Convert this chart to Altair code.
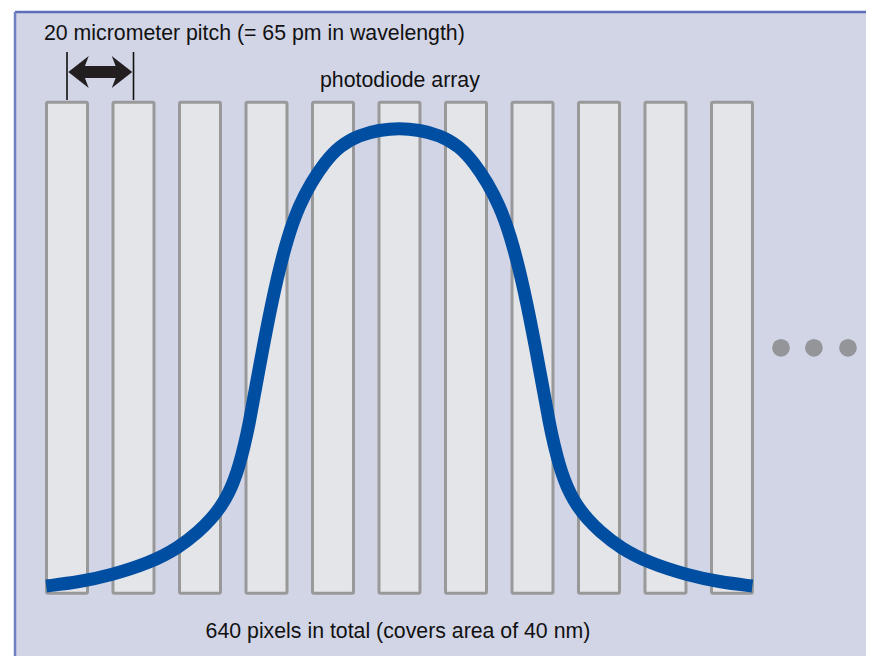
import altair as alt
import pandas as pd

# ---- values (x in micrometres along the array, y in relative signal) ----
diode_left_um = [0, 20, 40, 60, 80, 100, 120, 140, 160, 180, 200]
diode_width_um = 12.33
diode_bottom = -0.016
diode_top = 1.056

curve_x = [-0.1, 9.86, 19.48, 30.91, 39.63, 45.95, 49.56, 52.57, 54.67, 56.48, 57.98,
           59.48, 60.99, 62.49, 66.10, 69.41, 72.72, 76.02, 79.63, 83.54, 88.06, 94.07,
           100.09, 106.1,
           112.12, 118.13, 124.15, 128.66, 132.57, 136.18, 139.48, 142.79, 146.10, 149.71,
           151.21, 152.72, 154.22, 155.72, 157.53, 159.63, 162.64, 166.25, 172.57, 181.29,
           192.72, 202.34, 212.3]
curve_y = [0.0, 0.0087, 0.0240, 0.0502, 0.0830, 0.1201, 0.1463, 0.1747, 0.2009, 0.2314,
           0.2642, 0.3057, 0.3559, 0.4170, 0.5598, 0.6751, 0.7664, 0.8312, 0.8810, 0.9236,
           0.9607, 0.9847, 0.9956, 1.0,
           0.9956, 0.9847, 0.9607, 0.9236, 0.8810, 0.8312, 0.7664, 0.6751, 0.5598, 0.4170,
           0.3559, 0.3057, 0.2642, 0.2314, 0.2009, 0.1747, 0.1463, 0.1201, 0.0830, 0.0502,
           0.0240, 0.0087, 0.0]

dots_x = [220.9, 230.8, 241.05]
dots_y = [0.52, 0.52, 0.52]

pitch_tick_x = [6.17, 26.17]
pitch_tick_y = [1.061, 1.166]
arrow_x = [16.17]
arrow_y = [1.1223]

labels = ["20 micrometer pitch (= 65 pm in wavelength)", "photodiode array",
          "640 pixels in total (covers area of 40 nm)"]
label_x = [-0.75, 106.3, 105.7]
label_y = [1.192, 1.0895, -0.1135]
label_align = ["left", "center", "center"]

panel_x = [-9.47, 246.47]
panel_y = [-0.15284, 1.2533]

# ---- scales ----
xs = alt.Scale(domain=[-11.579, 246.47], nice=False, zero=False)
ys = alt.Scale(domain=[-0.15284, 1.26201], nice=False, zero=False)
X = lambda f: alt.X(f, type="quantitative", scale=xs, axis=None)
Y = lambda f: alt.Y(f, type="quantitative", scale=ys, axis=None)

panel_df = pd.DataFrame({"x0": [panel_x[0]], "x1": [panel_x[1]], "y0": [panel_y[0]], "y1": [panel_y[1]]})
panel = alt.Chart(panel_df).mark_rect(fill="#d2d5e6").encode(x=X("x0"), x2="x1", y=Y("y0"), y2="y1")
top_border = alt.Chart(panel_df).mark_rule(color="#5b70b8", strokeWidth=2.5).encode(x=X("x0"), x2="x1", y=Y("y1"))
left_border = alt.Chart(panel_df).mark_rule(color="#6f80c4", strokeWidth=2.5).encode(x=X("x0"), y=Y("y0"), y2="y1")

bars_df = pd.DataFrame({"x0": diode_left_um,
                        "x1": [v + diode_width_um for v in diode_left_um],
                        "y0": [diode_bottom] * len(diode_left_um),
                        "y1": [diode_top] * len(diode_left_um)})
bars = alt.Chart(bars_df).mark_rect(fill="#e4e5e9", stroke="#999999", strokeWidth=3, cornerRadius=1.5).encode(
    x=X("x0"), x2="x1", y=Y("y0"), y2="y1")

curve_df = pd.DataFrame({"x": curve_x, "y": curve_y})
curve = alt.Chart(curve_df).mark_line(color="#004ea2", strokeWidth=13, interpolate="basis",
                                      strokeCap="butt").encode(x=X("x"), y=Y("y"))

ticks_df = pd.DataFrame({"x": pitch_tick_x, "y0": [pitch_tick_y[0]] * 2, "y1": [pitch_tick_y[1]] * 2})
ticks = alt.Chart(ticks_df).mark_rule(color="#111111", strokeWidth=1.6).encode(x=X("x"), y=Y("y0"), y2="y1")

arrow_path = ("M -1 0 L -0.36 -0.5 L -0.48 -0.19 L 0.48 -0.19 L 0.36 -0.5 L 1 0 "
              "L 0.36 0.5 L 0.48 0.19 L -0.48 0.19 L -0.36 0.5 Z")
arrow_df = pd.DataFrame({"x": arrow_x, "y": arrow_y})
arrow = alt.Chart(arrow_df).mark_point(shape=arrow_path, size=4096, filled=True, color="#231f20",
                                       opacity=1, strokeWidth=0).encode(x=X("x"), y=Y("y"))

dots_df = pd.DataFrame({"x": dots_x, "y": dots_y})
dots = alt.Chart(dots_df).mark_circle(size=314, color="#939598", opacity=1).encode(x=X("x"), y=Y("y"))

text_layers = []
for t, tx, ty, ta in zip(labels, label_x, label_y, label_align):
    tdf = pd.DataFrame({"x": [tx], "y": [ty], "t": [t]})
    text_layers.append(
        alt.Chart(tdf).mark_text(font="Liberation Sans", fontSize=21.3, align=ta, baseline="alphabetic",
                                 color="#111111").encode(x=X("x"), y=Y("y"), text="t:N"))

chart = alt.layer(panel, top_border, left_border, bars, curve, ticks, arrow, dots, *text_layers).properties(
    width=858, height=648, padding=0, autosize="none", background="#ffffff"
).configure_view(strokeWidth=0)

chart.save("out.html", embed_options={"renderer": "svg", "actions": False})
